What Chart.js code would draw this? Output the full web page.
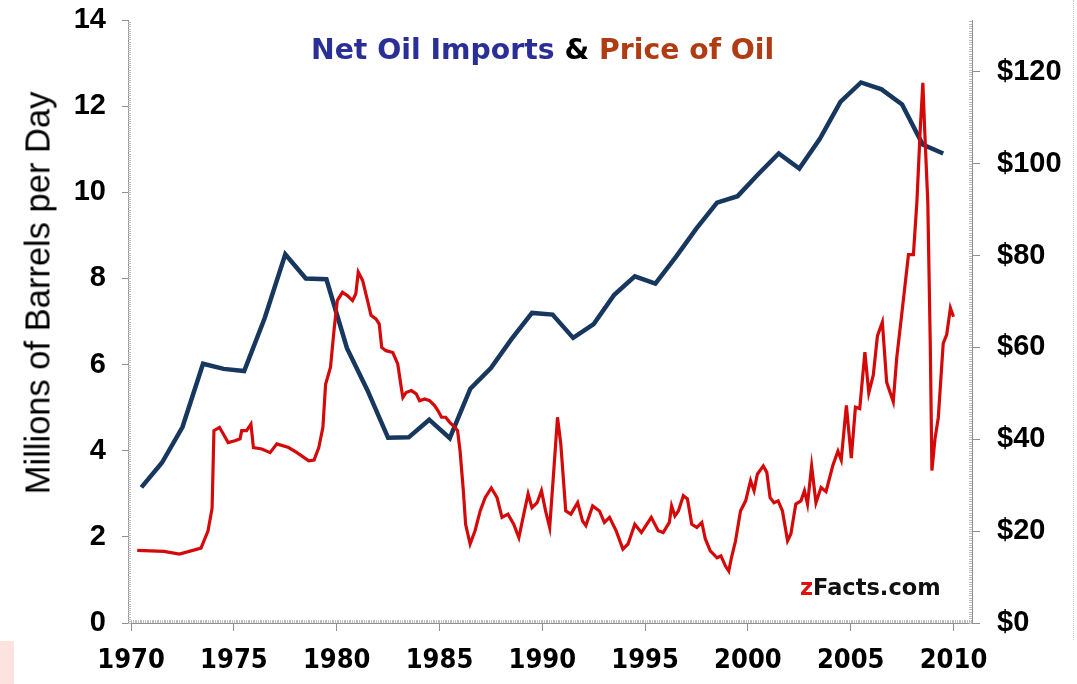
<!DOCTYPE html>
<html>
<head>
<meta charset="utf-8">
<script src="https://cdn.jsdelivr.net/npm/chart.js@4.4.1/dist/chart.umd.min.js"></script>
<style>
  body { margin: 0; background: #fff; }
  #wrap { position: relative; width: 1077px; height: 684px; overflow: hidden; background: #fff; }
  #title { position: absolute; left: 311px; top: 33px; font-family: "DejaVu Sans", sans-serif; font-weight: bold; font-size: 28.3px; color: #000; white-space: nowrap; }
  #title .imp { color: #2a2f96; }
  #title .prc { color: #b03c14; }
  #ytitle { position: absolute; left: 38px; top: 293px; transform: translate(-50%, -50%) rotate(-90deg); font-family: "Liberation Sans", Arial, sans-serif; font-size: 34.5px; color: #000; white-space: nowrap; }
  #brand { position: absolute; left: 800px; top: 574px; font-family: "DejaVu Sans", sans-serif; font-weight: bold; font-size: 22.5px; color: #111; white-space: nowrap; }
  #brand span { color: #e01010; }
  #pink { position: absolute; left: 0; top: 641px; width: 14px; height: 43px; background: #fde3df; }
  #edge { position: absolute; left: 1073px; top: 0; width: 0; height: 640px; border-left: 1px dotted #c8c8c8; }
</style>
</head>
<body>
<div id="wrap">
  <canvas id="oilChart" width="1077" height="684"></canvas>
  <div id="title"><span class="imp">Net Oil Imports</span> &amp; <span class="prc">Price of Oil</span></div>
  <div id="ytitle">Millions of Barrels per Day</div>
  <div id="brand"><span>z</span>Facts.com</div>
  <div id="pink"></div>
  <div id="edge"></div>
</div>
<script>
// net imports, millions of barrels per day (annual, plotted at mid-year)
const importYears = [1970.5, 1971.5, 1972.5, 1973.5, 1974.5, 1975.5, 1976.5, 1977.5, 1978.5, 1979.5,
  1980.5, 1981.5, 1982.5, 1983.5, 1984.5, 1985.5, 1986.5, 1987.5, 1988.5, 1989.5,
  1990.5, 1991.5, 1992.5, 1993.5, 1994.5, 1995.5, 1996.5, 1997.5, 1998.5, 1999.5,
  2000.5, 2001.5, 2002.5, 2003.5, 2004.5, 2005.5, 2006.5, 2007.5, 2008.5, 2009.5];
const importValues = [3.15, 3.72, 4.55, 6.02, 5.90, 5.85, 7.08, 8.56, 8.00, 7.98,
  6.38, 5.40, 4.30, 4.31, 4.72, 4.29, 5.44, 5.92, 6.59, 7.20,
  7.16, 6.62, 6.94, 7.62, 8.05, 7.88, 8.50, 9.16, 9.76, 9.91,
  10.42, 10.90, 10.55, 11.24, 12.10, 12.55, 12.39, 12.04, 11.11, 10.90];

// price of oil, dollars per barrel
const priceDates = [1970.3, 1971.6, 1972.35, 1973.4, 1973.74, 1973.94, 1974.03, 1974.3, 1974.48, 1974.72,
  1975.05, 1975.3, 1975.38, 1975.62, 1975.83, 1975.95, 1976.36, 1976.76, 1977.09, 1977.66,
  1978.07, 1978.64, 1978.9, 1979.13, 1979.33, 1979.46, 1979.7, 1979.87, 1980.03, 1980.28,
  1980.52, 1980.77, 1980.93, 1981.05, 1981.26, 1981.5, 1981.67, 1981.91, 1982.07, 1982.19,
  1982.4, 1982.73, 1982.97, 1983.14, 1983.22, 1983.38, 1983.63, 1983.87, 1984.03, 1984.28,
  1984.52, 1984.77, 1984.93, 1985.1, 1985.3, 1985.5, 1985.75, 1985.88, 1986.0, 1986.16,
  1986.27, 1986.49, 1986.73, 1986.98, 1987.22, 1987.52, 1987.8, 1988.04, 1988.33, 1988.61,
  1988.86, 1989.1, 1989.31, 1989.5, 1989.75, 1989.96, 1990.16, 1990.36, 1990.57, 1990.74,
  1990.9, 1991.14, 1991.39, 1991.72, 1991.96, 1992.12, 1992.45, 1992.78, 1993.02, 1993.27,
  1993.59, 1993.92, 1994.17, 1994.5, 1994.82, 1995.3, 1995.64, 1995.88, 1996.18, 1996.29,
  1996.45, 1996.62, 1996.86, 1997.06, 1997.27, 1997.52, 1997.76, 1997.93, 1998.17, 1998.5,
  1998.69, 1998.91, 1999.07, 1999.2, 1999.4, 1999.64, 1999.89, 2000.13, 2000.3, 2000.46,
  2000.75, 2000.92, 2001.08, 2001.27, 2001.47, 2001.68, 2001.93, 2002.09, 2002.33, 2002.58,
  2002.75, 2002.9, 2003.1, 2003.31, 2003.56, 2003.8, 2004.13, 2004.38, 2004.54, 2004.79,
  2005.03, 2005.23, 2005.44, 2005.69, 2005.88, 2006.1, 2006.3, 2006.54, 2006.75, 2007.07,
  2007.24, 2007.48, 2007.81, 2008.05, 2008.22, 2008.38, 2008.51, 2008.6, 2008.75, 2008.87,
  2008.95, 2009.1, 2009.26, 2009.5, 2009.67, 2009.85, 2010.0];
const priceValues = [15.8, 15.6, 15.0, 16.3, 20.0, 25.0, 41.9, 42.6, 41.2, 39.3,
  39.7, 40.1, 41.9, 41.9, 43.3, 38.2, 37.9, 37.1, 39.0, 38.2,
  37.1, 35.3, 35.5, 38.2, 42.6, 52.0, 55.7, 63.7, 70.2, 72.0,
  71.3, 70.2, 71.7, 76.4, 74.6, 70.2, 67.0, 66.2, 65.1, 60.0,
  59.3, 58.9, 56.4, 51.3, 49.1, 50.2, 50.6, 49.9, 48.4, 48.8,
  48.4, 47.3, 46.2, 44.8, 44.8, 43.7, 42.6, 41.9, 37.5, 28.8,
  21.5, 17.2, 20.1, 24.4, 27.3, 29.4, 27.3, 23.0, 23.7, 21.5,
  18.6, 23.7, 28.1, 25.1, 26.2, 28.8, 24.4, 20.8, 33.9, 44.8,
  39.0, 24.4, 23.7, 26.2, 22.2, 21.2, 25.5, 24.4, 21.9, 23.0,
  20.1, 16.1, 17.2, 21.5, 19.7, 23.0, 20.1, 19.7, 21.9, 25.5,
  23.3, 24.4, 27.7, 27.0, 21.5, 20.8, 21.9, 18.3, 15.7, 14.2,
  14.6, 12.4, 11.3, 14.2, 17.9, 24.4, 26.6, 31.0, 28.8, 32.4,
  34.2, 32.8, 27.3, 26.2, 26.6, 24.4, 17.9, 19.4, 25.9, 26.6,
  28.8, 25.9, 34.2, 26.2, 29.5, 28.6, 34.3, 37.4, 35.5, 47.4,
  35.9, 47.0, 46.7, 59.0, 50.1, 54.0, 62.5, 65.5, 52.4, 48.2,
  57.8, 67.1, 80.2, 80.2, 91.7, 107.2, 117.6, 107.2, 91.7, 60.9,
  33.2, 40.1, 44.7, 60.9, 62.8, 68.6, 66.7];

const axisGray = '#8f8f8f';
const tickFont = { family: '"Liberation Sans", Arial, sans-serif', size: 29, weight: 'bold' };

// small inner ticks along each axis (the "ruler" look)
const minorTicks = {
  id: 'minorTicks',
  afterDraw(chart) {
    const { ctx, chartArea, scales } = chart;
    ctx.save();
    ctx.strokeStyle = '#bdbdbd';
    ctx.lineWidth = 1;
    ctx.beginPath();
    for (let v = 1970; v <= 2010.9; v += 1 / 12) {
      const px = Math.round(scales.x.getPixelForValue(v)) + 0.5;
      ctx.moveTo(px, chartArea.bottom);
      ctx.lineTo(px, chartArea.bottom - 3);
    }
    for (let v = 0; v <= 14; v += 0.05) {
      const py = Math.round(scales.y.getPixelForValue(v)) + 0.5;
      ctx.moveTo(chartArea.left, py);
      ctx.lineTo(chartArea.left + 3, py);
    }
    for (let v = 0; v <= 131; v += 0.5) {
      const py = Math.round(scales.y1.getPixelForValue(v)) + 0.5;
      ctx.moveTo(chartArea.right, py);
      ctx.lineTo(chartArea.right - 3, py);
    }
    ctx.stroke();
    ctx.restore();
  }
};

// fixed axis sizes so the plot area sits where it does in the picture
function fixWidth(w) {
  return s => { s.width = w; s.paddingTop = 0; s.paddingBottom = 0; };
}

const ctx = document.getElementById('oilChart').getContext('2d');
new Chart(ctx, {
  type: 'line',
  data: {
    datasets: [{
      label: 'Price of Oil',
      data: priceDates.map((x, i) => ({ x: x, y: priceValues[i] })),
      yAxisID: 'y1',
      borderColor: '#d40a0a',
      borderWidth: 3.2,
      pointRadius: 0,
      tension: 0
    }, {
      label: 'Net Oil Imports',
      data: importYears.map((x, i) => ({ x: x, y: importValues[i] })),
      yAxisID: 'y',
      borderColor: '#17375e',
      borderWidth: 4.5,
      pointRadius: 0,
      tension: 0
    }]
  },
  options: {
    responsive: false,
    animation: false,
    devicePixelRatio: 1,
    layout: { padding: { top: 20, left: 0, right: 0, bottom: 0 } },
    plugins: { legend: { display: false }, tooltip: { enabled: false }, title: { display: false } },
    scales: {
      x: {
        type: 'linear',
        min: 1969.85,
        max: 2010.9,
        ticks: {
          stepSize: 5, includeBounds: false, autoSkip: false, maxRotation: 0, padding: 14,
          color: '#000',
          font: { family: '"Liberation Sans Narrow", "DejaVu Sans Condensed", sans-serif', size: 27, weight: 'bold' },
          callback: v => String(v)
        },
        grid: { drawOnChartArea: false, tickLength: 8, tickColor: axisGray },
        border: { color: axisGray },
        afterFit: s => { s.height = 61; s.paddingLeft = 0; s.paddingRight = 0; }
      },
      y: {
        position: 'left',
        min: 0,
        max: 14,
        ticks: { stepSize: 2, padding: 16, color: '#000', font: tickFont },
        grid: { drawOnChartArea: false, tickLength: 6, tickColor: axisGray },
        border: { color: axisGray },
        afterFit: fixWidth(128)
      },
      y1: {
        position: 'right',
        min: 0,
        max: 131.3,
        ticks: { stepSize: 20, includeBounds: false, padding: 17, color: '#000', font: tickFont, callback: v => '$' + v },
        grid: { drawOnChartArea: false, tickLength: 8, tickColor: axisGray },
        border: { color: axisGray },
        afterFit: fixWidth(105)
      }
    }
  },
  plugins: [minorTicks]
});
</script>
</body>
</html>
